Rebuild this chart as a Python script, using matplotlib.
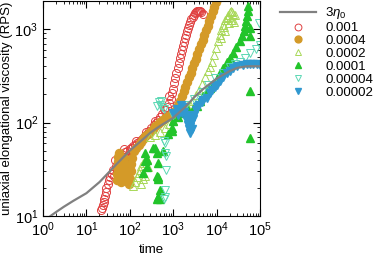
import matplotlib
matplotlib.use("Agg")
import matplotlib.pyplot as plt
from matplotlib.ticker import LogLocator, NullFormatter

plt.rcParams['font.family'] = ['Liberation Sans', 'DejaVu Sans']
plt.rcParams['mathtext.fontset'] = 'custom'
plt.rcParams['mathtext.rm'] = 'Liberation Sans'
plt.rcParams['mathtext.it'] = 'Liberation Sans:italic'
plt.rcParams['font.size'] = 9.5

# 3*eta_0 reference curve
t_eta = [1.5, 2, 3, 5, 10, 20, 30, 50, 100, 200, 300, 500, 1000, 2000, 3000,
         5000, 10000, 20000, 30000, 50000, 100000]
y_eta = [10, 11, 12.5, 14.5, 17.5, 23, 28, 36, 50, 66, 78, 92, 112, 150, 185,
         230, 295, 355, 385, 400, 400]

# rate 0.001 (open circles)
t_001 = [22, 23, 24, 25, 26, 27, 28, 29, 31, 33, 35, 38, 41, 44, 47, 50, 53, 56,
         60, 64, 68, 72, 77, 82, 88, 94, 100, 108, 118, 130, 145, 160, 180, 200,
         225, 250, 280, 315, 355, 400, 450, 505, 565, 635, 710, 790, 870, 940,
         1000, 1060, 1120, 1190, 1260, 1330, 1410, 1490, 1580, 1670, 1770, 1870,
         1980, 2100, 2220, 2350, 2490, 2640, 2800, 2970, 3150, 3340, 3540, 3760,
         3990, 4230, 4480, 4750,
         45, 55, 65, 75, 85, 95, 140, 240, 380, 600, 820]
y_001 = [11.5, 12.2, 13, 14, 15.2, 16.5, 18, 20, 22, 24, 26, 28, 31, 27, 34,
         30, 38, 33, 42, 36, 45, 40, 48, 43, 50, 46, 52, 53, 56, 58, 60, 62, 65,
         68, 72, 76, 81, 87, 93, 100, 107, 115, 124, 135, 148, 162, 180, 205,
         230, 262, 298, 340, 385, 432, 485, 540, 600, 665, 730, 800, 870, 945,
         1020, 1100, 1190, 1280, 1360, 1430, 1480, 1520, 1545, 1560, 1565, 1550,
         1510, 1450,
         40, 44, 30, 52, 37, 42, 63, 79, 104, 138, 190]

# rate 0.0004 (filled circles)
t_0004 = [50, 51, 52, 53, 54, 55, 57, 58, 59, 60, 61, 62, 64, 66, 68, 70, 74, 78,
          82, 86, 90, 95, 100, 104, 108, 112, 125, 140, 160, 180, 200, 230, 260,
          300, 340, 390, 440, 500, 570, 650, 740, 850, 930,
          1000, 1100, 1200, 1320, 1450, 1600, 1750, 1920, 2100, 2300, 2520, 2760,
          3020, 3300, 3620, 3960, 4340, 4750, 5200, 5700, 6240, 6830, 7480, 8190,
          8970, 9820, 10750]
y_0004 = [24, 28, 33, 38, 43, 47, 45, 40, 35, 30, 26, 23, 25, 29, 34, 38, 42, 36,
          31, 27, 24, 22, 25, 30, 36, 42, 50, 54, 58, 62, 66, 71, 75, 80, 85, 91,
          96, 101, 106, 111, 115, 119, 122,
          125, 133, 142, 155, 170, 192, 215, 242, 272, 305, 342, 384, 431, 484,
          543, 610, 685, 770, 865, 970, 1090, 1225, 1375, 1545, 1735, 1945, 2180]

# rate 0.0002 (open up triangles)
t_0002 = [118, 130, 146, 160, 170, 185, 200, 220, 250, 180, 200, 230, 260, 300,
          380, 500, 650, 800, 1000, 1200, 1500, 1800, 2100, 2400, 2800, 3300,
          3900, 4600, 5400, 6300, 7000, 7800, 8700, 9600, 10600, 11700, 12900,
          14200, 15600, 17000, 18500, 20000, 21500, 23000, 24500, 26000, 13000,
          16000, 19000, 21000, 23000, 25000, 15000, 18000]
y_0002 = [21, 23, 26, 29, 31, 34, 37, 39, 41, 22, 25, 27, 33, 70, 74, 80, 88, 96,
          105, 118, 132, 145, 152, 155, 170, 195, 225, 260, 305, 355, 390, 450,
          530, 630, 740, 860, 990, 1120, 1240, 1330, 1430, 1520, 1570, 1530,
          1470, 1400, 800, 950, 1150, 1250, 1250, 1200, 1050, 1350]

# rate 0.0001 (filled up triangles)
t_0001 = [200, 225, 225, 250, 250, 340, 380, 420, 420, 445, 445, 450, 500, 420,
          445, 500, 580, 750, 930, 950, 1000, 1300, 1700, 2200, 2800, 3500, 4200,
          5000, 6000, 7000, 8300, 10000, 12000, 14000, 17000, 20000, 24000,
          28000, 34000, 38000, 42000, 45000, 48000, 50000, 52000, 53000,
          58000, 58000, 58000, 58000]
y_0001 = [29, 39, 47, 40, 33, 54, 54, 47, 27, 37, 25, 26, 19, 15, 16, 15, 50, 76,
          88, 82, 105, 115, 125, 135, 140, 150, 170, 190, 215, 235, 260, 295,
          340, 385, 440, 490, 560, 640, 740, 840, 960, 1080, 1220, 1380, 1550,
          1750, 1020, 840, 220, 68]

# rate 0.00004 (open down triangles)
t_00004 = [420, 480, 500, 540, 520, 600, 620, 660, 640, 700, 680, 640, 600, 650,
           1000, 1500, 2000, 3000, 4600, 6500, 9200, 14000, 20000, 26000, 34000,
           45000, 60000, 80000, 100000, 95000]
y_00004 = [150, 165, 155, 145, 170, 140, 64, 60, 47, 44, 31, 19, 15, 16,
           120, 135, 155, 180, 210, 250, 300, 340, 390, 420, 450, 490, 560, 620,
           680, 1150]

# rate 0.00002 (filled down triangles)
t_00002 = [1000, 1200, 1300, 1500, 1600, 1700, 1800, 2000, 2100, 2200, 2200, 2300,
           2300, 2400, 2450, 2500, 2600, 2700, 2800, 3000, 3300, 3600, 4000, 4500,
           5000, 6000, 7000, 8000, 9000, 10000, 12000, 14000, 17000, 20000, 24000,
           30000, 40000, 50000, 60000, 70000, 85000, 100000]
y_00002 = [125, 140, 120, 155, 125, 145, 130, 120, 105, 95, 115, 85, 100, 78, 110,
           90, 100, 85, 110, 120, 135, 145, 155, 165, 175, 185, 205, 225, 240,
           255, 280, 310, 340, 360, 385, 400, 415, 420, 425, 425, 420, 415]

fig = plt.figure(figsize=(3.74, 2.54), dpi=100)
ax = fig.add_axes([0.115, 0.15, 0.58, 0.846])

ms = 5.8
ax.plot(t_001, y_001, 'o', ls='none', ms=ms, mfc='none', mec='#e04040', mew=0.7, label='0.001')
ax.plot(t_0004, y_0004, 'o', ls='none', ms=ms, color='#d49a28', label='0.0004')
ax.plot(t_0002, y_0002, '^', ls='none', ms=ms, mfc='none', mec='#a8d858', mew=0.7, label='0.0002')
ax.plot(t_0001, y_0001, '^', ls='none', ms=ms, color='#22c42a', label='0.0001')
ax.plot(t_00004, y_00004, 'v', ls='none', ms=ms, mfc='none', mec='#5cd8b4', mew=0.7, label='0.00004')
ax.plot(t_00002, y_00002, 'v', ls='none', ms=ms, color='#3098d0', label='0.00002')
ax.plot(t_eta, y_eta, '-', color='#808080', lw=1.6, zorder=5, label=r'3$\eta_0$')

ax.set_xscale('log')
ax.set_yscale('log')
ax.set_xlim(1, 1e5)
ax.set_ylim(10, 2000)
ax.xaxis.set_major_locator(LogLocator(base=10, numticks=12))
ax.xaxis.set_minor_locator(LogLocator(base=10, subs=range(2, 10), numticks=12))
ax.xaxis.set_minor_formatter(NullFormatter())
ax.tick_params(which='both', direction='in', top=True, right=True, labelsize=10.5)
ax.tick_params(which='major', length=5)
ax.tick_params(which='minor', length=2.5)
ax.set_xlabel('time', labelpad=3)
ax.set_ylabel('uniaxial elongational viscosity (RPS)', labelpad=1)

handles, labels = ax.get_legend_handles_labels()
order = [6, 0, 1, 2, 3, 4, 5]
fig.legend([handles[i] for i in order], [labels[i] for i in order],
           loc='upper left', bbox_to_anchor=(0.735, 1.0), frameon=False,
           handlelength=2.7, handletextpad=0.7, labelspacing=0.05,
           borderaxespad=0, markerscale=0.85)

fig.savefig('out.png', dpi=100)
